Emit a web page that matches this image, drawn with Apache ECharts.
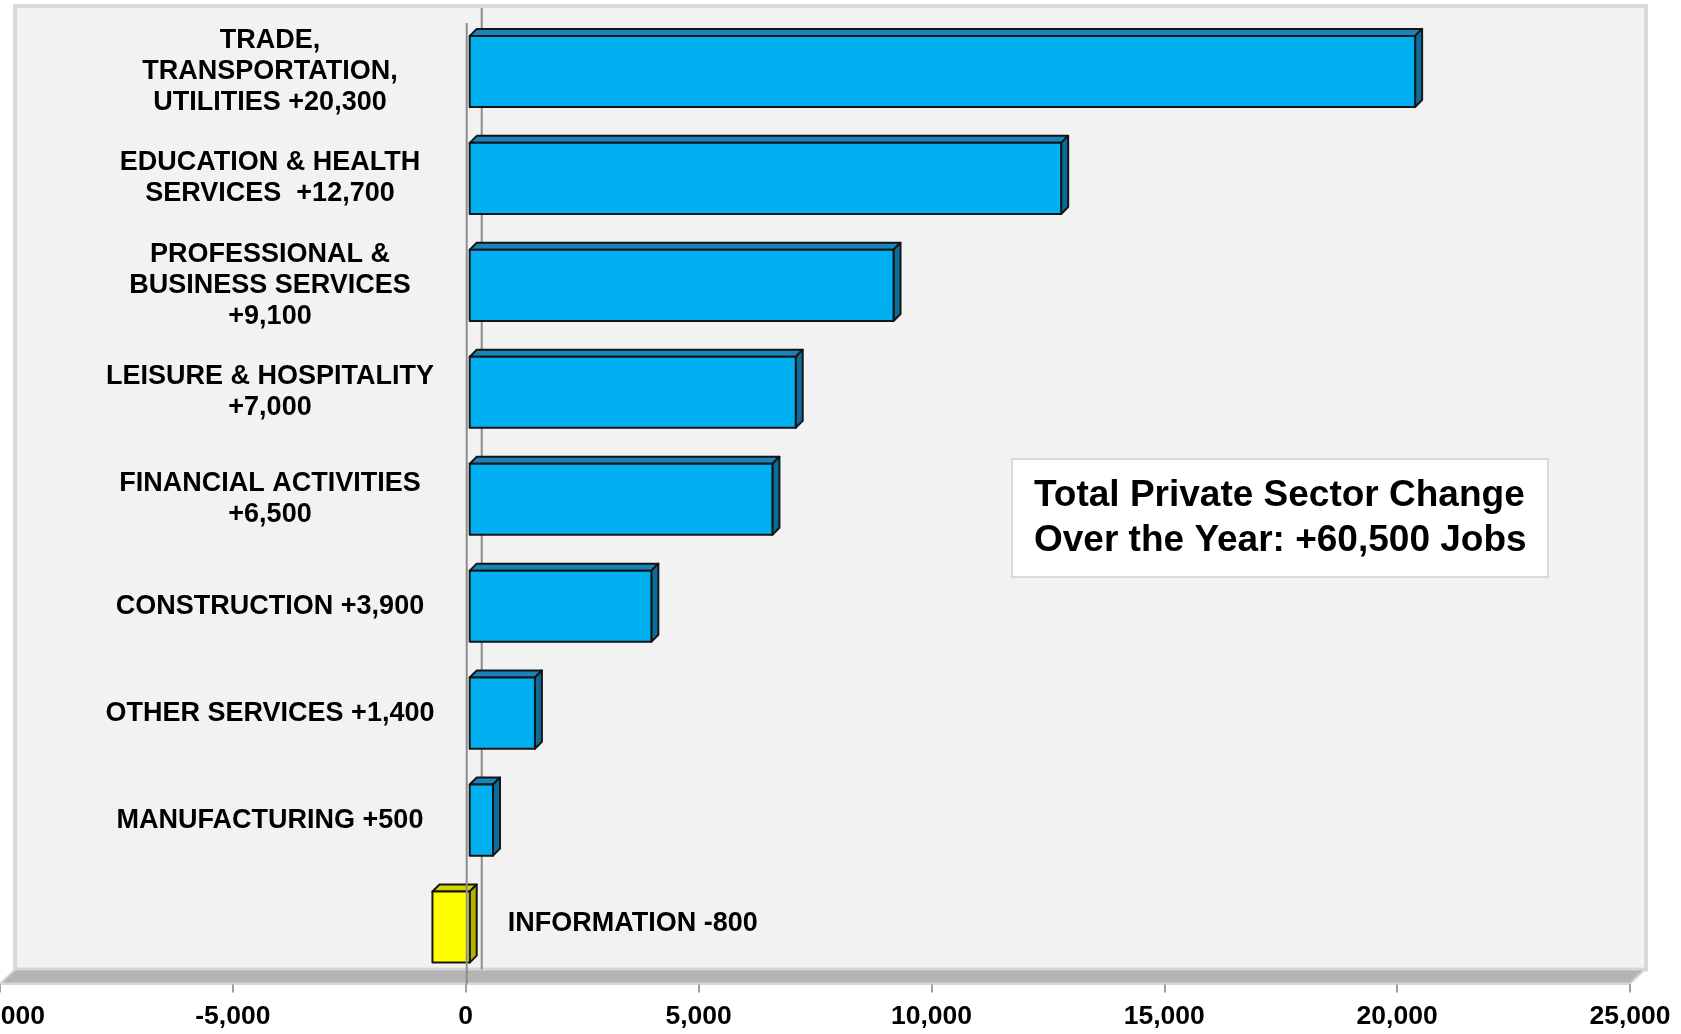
<!DOCTYPE html>
<html><head><meta charset="utf-8">
<script src="https://cdn.jsdelivr.net/npm/echarts@6/dist/echarts.min.js"></script>
<style>html,body{margin:0;padding:0;background:#fff}#c{width:1681px;height:1034px}</style>
</head><body><div id="c"></div>
<script>
// ---- data ----
const categories = [
  'TRADE,\nTRANSPORTATION,\nUTILITIES +20,300',
  'EDUCATION & HEALTH\nSERVICES  +12,700',
  'PROFESSIONAL &\nBUSINESS SERVICES\n+9,100',
  'LEISURE & HOSPITALITY\n+7,000',
  'FINANCIAL ACTIVITIES\n+6,500',
  'CONSTRUCTION +3,900',
  'OTHER SERVICES +1,400',
  'MANUFACTURING +500',
  'INFORMATION -800'
];
const values = [20300, 12700, 9100, 7000, 6500, 3900, 1400, 500, -800];
const xMin = -10000, xMax = 25000, xStep = 5000;
const totalText = ['Total Private Sector Change', 'Over the Year: +60,500 Jobs'];

const FONT = '"Liberation Sans", Arial, Helvetica, sans-serif';
const chart = echarts.init(document.getElementById('c'), null, {renderer: 'canvas'});

function renderDecor(params, api) {
  const cs = params.coordSys;
  const x0 = cs.x, x1 = cs.x + cs.width, yb = cs.y + cs.height;
  const dx = 15, dy = 14;
  const fy = yb + 3;           // front edge of floor
  const by = fy - dy;          // back edge of floor
  const zx = api.coord([0, 0])[0] + dx + 1;
  return {
    type: 'group',
    children: [
      { type: 'rect', shape: {x: x0 + dx, y: 6, width: x1 - x0 + 1, height: by - 6},
        style: {fill: '#f2f2f2', stroke: '#d9d9d9', lineWidth: 4} },
      { type: 'polygon', shape: {points: [[x0, fy], [x0 + dx, by], [x1 + dx, by], [x1, fy]]},
        style: {fill: '#b4b4b4', stroke: '#d6d6d6', lineWidth: 2} },
      { type: 'line', shape: {x1: zx, y1: 8, x2: zx, y2: by},
        style: {stroke: '#8c8c8c', lineWidth: 2} }
    ]
  };
}

function renderFrontZero(params, api) {
  const cs = params.coordSys;
  const zx = api.coord([0, 0])[0] + 1;
  return { type: 'line', shape: {x1: zx, y1: cs.y + 5, x2: zx, y2: cs.y + cs.height + 4},
           style: {stroke: '#8c8c8c', lineWidth: 2} };
}

function renderBar(params, api) {
  const v = api.value(0), ci = api.value(1);
  const pz = api.coord([0, ci]), pv = api.coord([v, ci]);
  const band = api.size([0, 1])[1];
  const h = band * 0.665;
  const sx = 4, d = 7;
  const xl = Math.min(pz[0], pv[0]) + sx, xr = Math.max(pz[0], pv[0]) + sx;
  const yt = pz[1] - h / 2, yb = pz[1] + h / 2;
  const neg = v < 0;
  const cFront = neg ? '#ffff00' : '#00b0f0';
  const cTop = neg ? '#d4d400' : '#1a84ba';
  const cSide = neg ? '#b3b300' : '#0c6c9c';
  const st = {stroke: '#151515', lineWidth: 2, lineJoin: 'round'};
  const children = [
    { type: 'polygon', shape: {points: [[xl, yt], [xl + d, yt - d], [xr + d, yt - d], [xr, yt]]},
      style: Object.assign({fill: cTop}, st) },
    { type: 'polygon', shape: {points: [[xr, yt], [xr + d, yt - d], [xr + d, yb - d], [xr, yb]]},
      style: Object.assign({fill: cSide}, st) },
    { type: 'rect', shape: {x: xl, y: yt, width: xr - xl, height: h},
      style: Object.assign({fill: cFront}, st) }
  ];
  if (neg) {
    children.push({
      type: 'text', x: xr + 38, y: pz[1] - 3,
      style: {text: categories[ci], fill: '#000', font: 'bold 27px ' + FONT,
              textAlign: 'left', textVerticalAlign: 'middle'}
    });
  }
  return {type: 'group', children};
}

chart.setOption({
  animation: false,
  backgroundColor: '#ffffff',
  textStyle: {fontFamily: FONT},
  title: {
    text: totalText.join('\n'),
    left: 1012, top: 459,
    backgroundColor: '#ffffff', borderColor: '#d0d0d0', borderWidth: 1.5,
    padding: [14, 22, 14, 22],
    textStyle: {fontSize: 37, fontWeight: 'bold', lineHeight: 45, color: '#000', fontFamily: FONT}
  },
  grid: {left: 0, right: 51, top: 18, bottom: 53.5, containLabel: false, outerBoundsMode: 'none'},
  xAxis: {
    type: 'value', min: xMin, max: xMax, interval: xStep, offset: 3,
    splitLine: {show: false},
    axisLine: {show: true, onZero: false, lineStyle: {color: '#d9d9d9', width: 2}},
    axisTick: {show: true, length: 9, lineStyle: {color: '#808080', width: 1.5}},
    axisLabel: {
      show: true, showMinLabel: true, showMaxLabel: true, hideOverlap: false,
      fontSize: 26.5, fontWeight: 'bold', color: '#000', margin: 20, fontFamily: FONT,
      formatter: v => v.toLocaleString('en-US')
    }
  },
  yAxis: {
    type: 'category', data: categories, inverse: true, z: 5,
    axisLine: {show: false, onZero: false},
    axisTick: {show: false},
    splitLine: {show: false},
    axisLabel: {
      inside: true, margin: 270, align: 'center', fontSize: 27, fontWeight: 'bold', lineHeight: 31,
      color: '#000', fontFamily: FONT,
      formatter: (v, i) => values[i] < 0 ? '' : v
    }
  },
  series: [
    { type: 'custom', z: 1, silent: true, renderItem: renderDecor, data: [[0, 0]],
      encode: {x: 0, y: 1} },
    { type: 'custom', z: 2, renderItem: renderBar,
      data: values.map((v, i) => [v, i]), encode: {x: 0, y: 1} },
    { type: 'custom', z: 3, silent: true, renderItem: renderFrontZero, data: [[0, 0]],
      encode: {x: 0, y: 1} }
  ]
});
</script></body></html>
